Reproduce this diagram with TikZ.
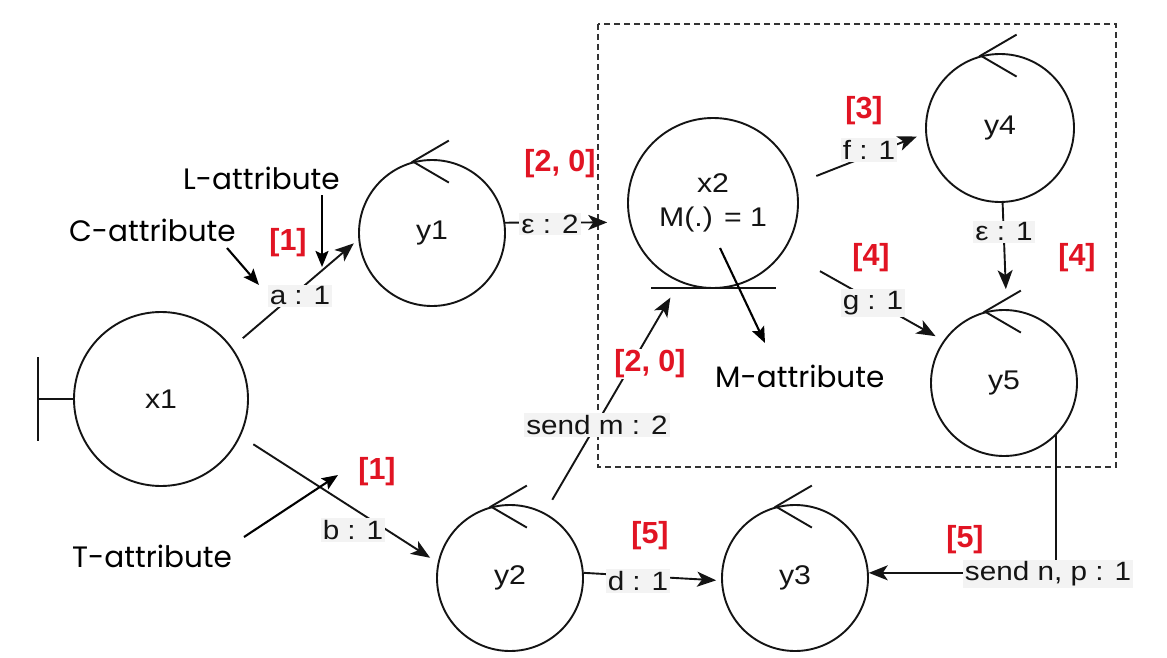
\documentclass[tikz,border=0pt]{standalone}
\usepackage{fontspec}
\usetikzlibrary{arrows.meta}
\newfontfamily\arialf[FakeStretch=1.12]{Liberation Sans}
\newfontfamily\arialb{Liberation Sans}
\newfontfamily\popf{Poppins}
\definecolor{lbg}{RGB}{243,243,243}
\definecolor{rd}{RGB}{225,20,35}
\definecolor{ink}{RGB}{20,20,20}
\definecolor{boxc}{RGB}{50,50,50}
\tikzset{
  st/.style={circle, draw=ink, line width=1.9pt, minimum size=146pt, inner sep=0pt, font=\arialf\fontsize{27}{34}\selectfont, text=ink},
  elab/.style={fill=lbg, inner sep=2pt, font=\arialf\fontsize{26.5}{30}\selectfont, text=ink},
  rlab/.style={fill=white, inner sep=1pt, text=rd, font=\arialb\bfseries\fontsize{30.5}{34}\selectfont},
  att/.style={anchor=base west, inner sep=0pt, font=\popf\fontsize{29.5}{32}\selectfont},
  conn/.style={draw=ink, line width=1.9pt, -{Stealth[length=19pt,width=15pt,inset=5pt]}},
  attarrow/.style={draw=black, line width=2.1pt, -{Stealth[length=16pt,width=13pt,inset=3pt]}},
  loopm/.style={draw=ink, line width=1.9pt},
  dbox/.style={draw=boxc, line width=1.6pt, dash pattern=on 6pt off 4pt}
}
\begin{document}
\begin{tikzpicture}[x=1pt,y=-1pt]
\useasboundingbox (0,0) rectangle (1167,658);
\fill[white] (0,0) rectangle (1167,658);
% dashed group box
\draw[dbox] (598,24) rectangle (1116,467);
% states
\node[st, minimum size=174pt] (x1) at (161,399) {x1};
\node[st] (y1) at (432,233) {y1};
\node[st, minimum size=170pt, align=center] (x2) at (713,203) {x2\\M(.) = 1};
\node[st, minimum size=148pt] (y4) at (1000,128) {y4};
\node[st] (y5) at (1004,383) {y5};
\node[st] (y2) at (510,578) {y2};
\node[st] (y3) at (795,578) {y3};
% initial marker on x1
\draw[loopm] (x1.west) -- ++(-35,0) coordinate (ti);
\draw[loopm] (ti) ++(0,-42) -- ++(0,84);
% bar under x2
\draw[loopm] (x2.south) ++(-62,-1) -- ++(125,0);
% loop markers
\foreach \n in {y1,y2,y3,y4,y5}{
  \draw[loopm] (\n.105) ++(36,-21) -- (\n.105) -- ++(36,21);
}
% connectors
\draw[conn, shorten <=14pt, shorten >=6pt] (x1.36) -- (y1.185);
\node[elab] (la) at (300,296) {a : 1};
\draw[conn, shorten >=22pt] (y1.8) -- (x2.193.6);
\node[elab] (le2) at (550,224) {ε : 2};
\draw[conn, shorten <=21pt, shorten >=9pt] (x2.13.6) -- (y4.184.8);
\node[elab] (lf) at (869,150) {f : 1};
\draw[conn, shorten <=41pt, shorten >=9pt] (x2.-34.7) -- (y5.145.9);
\node[elab] (lg) at (873,303) {g : 1};
\draw[conn, shorten >=20pt] (y4.-88) -- (y5.88);
\node[elab] (le1) at (1004,232) {ε : 1};
\draw[conn, shorten <=15pt, shorten >=18pt] (y2.62.3) -- (x2.247.2);
\node[elab] (lm) at (597,425) {send m : 2};
\draw[conn, shorten <=15pt, shorten >=9pt] (x1.-25.6) -- (y2.168.7);
\node[elab] (lb) at (353,530) {b : 1};
\draw[conn, shorten >=5pt] (y2.4.8) -- (y3.182.2);
\node[elab] (ld) at (638,581) {d : 1};
\draw[conn] (y5.-45.6) |- (y3.4.7);
\node[elab] (lnp) at (1048,574) {send n, p : 1};
% red labels
\node[rlab] (r1a) at (288,243) {[1]};
\node[rlab] (r20a) at (560,164) {[2, 0]};
\node[rlab] (r3) at (864,111) {[3]};
\node[rlab] (r4a) at (871,258) {[4]};
\node[rlab] (r4b) at (1077,258) {[4]};
\node[rlab] (r20b) at (650,364) {[2, 0]};
\node[rlab] (r1b) at (377,472) {[1]};
\node[rlab] (r5a) at (650,536) {[5]};
\node[rlab] (r5b) at (965,540) {[5]};
% attribute annotations
\node[att] (Lat) at (183,189) {L-attribute};
\node[att] (Cat) at (69,241) {C-attribute};
\node[att] (Mat) at (715,387) {M-attribute};
\node[att] (Tat) at (72,567) {T-attribute};
\coordinate (La0) at (322,195); \coordinate (La1) at (322,267);
\coordinate (Ca0) at (227,248); \coordinate (Ca1) at (259,285);
\coordinate (Ma0) at (720,248); \coordinate (Ma1) at (765,343);
\coordinate (Ta0) at (244,537); \coordinate (Ta1) at (338,475);
\draw[attarrow] (La0) -- (La1);
\draw[attarrow] (Ca0) -- (Ca1);
\draw[attarrow] (Ma0) -- (Ma1);
\draw[attarrow] (Ta0) -- (Ta1);
\end{tikzpicture}
\end{document}
